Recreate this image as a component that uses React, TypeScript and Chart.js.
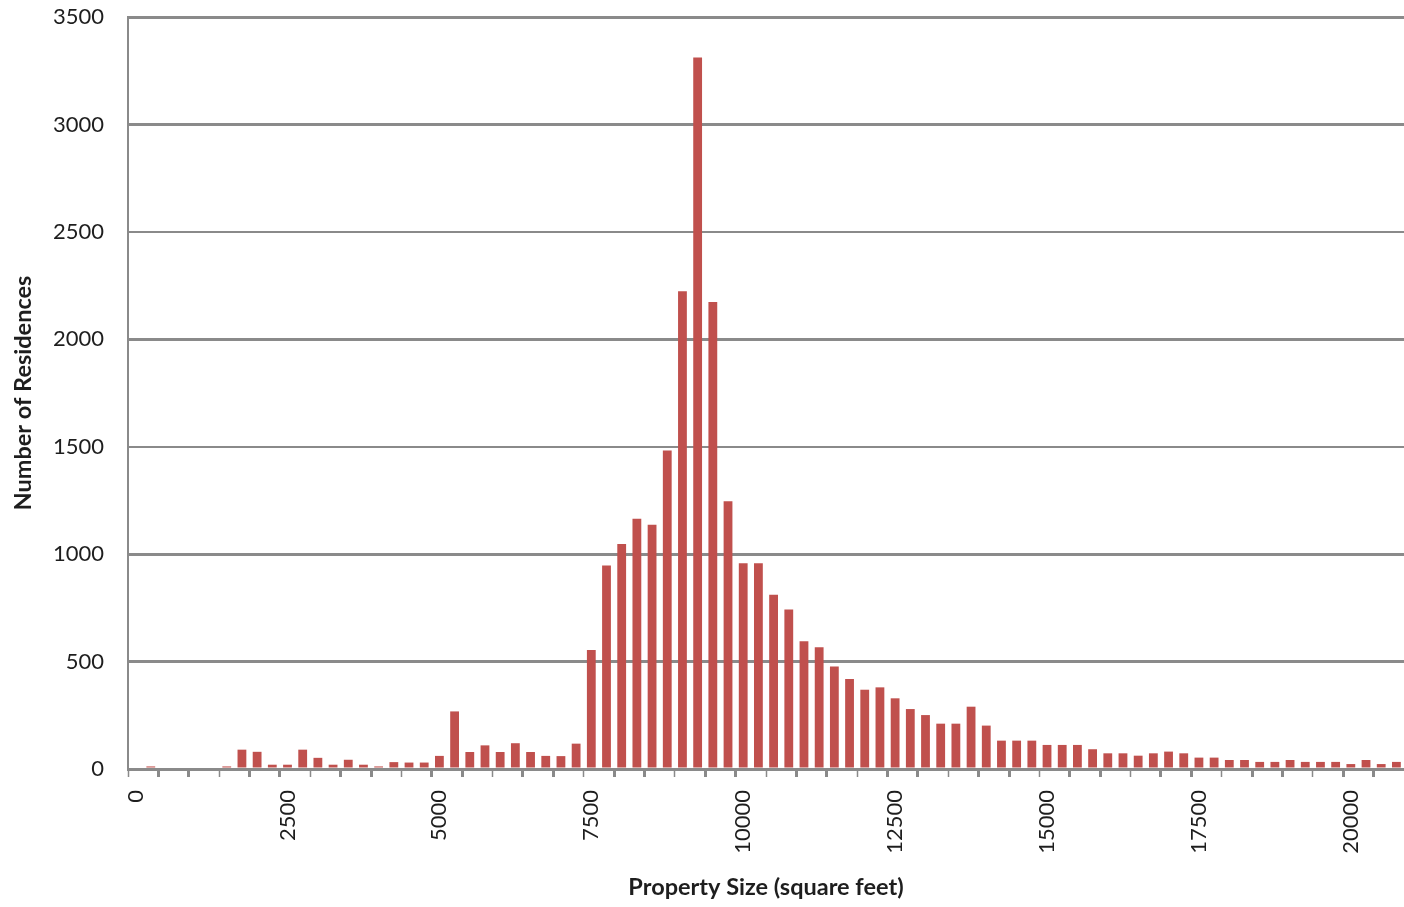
import React, { useEffect, useRef } from "react";
import { Chart, registerables } from "chart.js";

Chart.register(...registerables);

const categories: number[] = [
  0, 250, 500, 750, 1000, 1250, 1500, 1750, 2000, 2250,
  2500, 2750, 3000, 3250, 3500, 3750, 4000, 4250, 4500, 4750,
  5000, 5250, 5500, 5750, 6000, 6250, 6500, 6750, 7000, 7250,
  7500, 7750, 8000, 8250, 8500, 8750, 9000, 9250, 9500, 9750,
  10000, 10250, 10500, 10750, 11000, 11250, 11500, 11750, 12000, 12250,
  12500, 12750, 13000, 13250, 13500, 13750, 14000, 14250, 14500, 14750,
  15000, 15250, 15500, 15750, 16000, 16250, 16500, 16750, 17000, 17250,
  17500, 17750, 18000, 18250, 18500, 18750, 19000, 19250, 19500, 19750,
  20000, 20250, 20500, 20750,
];

const residences: number[] = [
  0, 12, 0, 0, 0, 0, 12, 90, 80, 20,
  20, 90, 52, 20, 43, 20, 12, 32, 30, 30,
  61, 268, 79, 110, 79, 120, 79, 61, 60, 118,
  554, 947, 1047, 1165, 1137, 1482, 2224, 3311, 2174, 1246,
  958, 958, 811, 742, 595, 567, 477, 419, 369, 380,
  329, 279, 251, 211, 211, 290, 202, 132, 132, 132,
  112, 112, 112, 92, 73, 73, 62, 73, 81, 73,
  53, 53, 42, 42, 33, 33, 42, 33, 33, 33,
  23, 42, 23, 33,
];

const yTicks: number[] = [0, 500, 1000, 1500, 2000, 2500, 3000, 3500];

const BAR_COLOR = "#C0504D";
const GRID_COLOR = "#8a8a8a";
const TEXT_COLOR = "#1e1e1e";

export default function App() {
  const ref = useRef<HTMLCanvasElement | null>(null);

  useEffect(() => {
    if (!ref.current) return;
    const chart = new Chart(ref.current, {
      type: "bar",
      data: {
        labels: categories.map(String),
        datasets: [
          {
            data: residences,
            backgroundColor: BAR_COLOR,
            borderWidth: 0,
            categoryPercentage: 1,
            barPercentage: 0.58,
          },
        ],
      },
      options: {
        responsive: false,
        animation: false,
        layout: { padding: { top: 17, right: 0, bottom: 0, left: 0 } },
        plugins: { legend: { display: false }, tooltip: { enabled: false } },
        scales: {
          x: {
            type: "category",
            offset: true,
            grid: {
              offset: true,
              drawOnChartArea: false,
              drawTicks: true,
              tickLength: 8,
              tickColor: (ctx: any) => (ctx.index % 2 === 0 ? GRID_COLOR : "rgba(0,0,0,0)"),
              tickWidth: (ctx: any) => ((ctx.index / 2) % 3 === 0 ? 1.5 : 3),
            },
            border: { display: true, color: GRID_COLOR, width: 2 },
            ticks: {
              autoSkip: false,
              maxRotation: 90,
              minRotation: 90,
              padding: 13,
              color: TEXT_COLOR,
              font: { family: "Lato", size: 22 },
              callback: (_v: any, i: number) => (i % 10 === 0 ? String(categories[i]) : ""),
            },
            title: {
              display: true,
              text: "Property Size (square feet)",
              color: TEXT_COLOR,
              font: { family: "Lato", size: 23.5, weight: "bold" },
              padding: { top: 0, bottom: 5 },
            },
            afterFit: (scale: any) => {
              scale.height = 907 - 769;
              scale.paddingLeft = 0;
              scale.paddingRight = 0;
            },
          },
          y: {
            min: 0,
            max: 3500,
            afterBuildTicks: (scale: any) => {
              scale.ticks = yTicks.map((v) => ({ value: v }));
            },
            grid: {
              drawTicks: false,
              color: GRID_COLOR,
              lineWidth: (ctx: any) => {
                const v = ctx.tick ? ctx.tick.value : 0;
                return v === 2500 || v === 1500 ? 2 : 3;
              },
            },
            border: { display: true, color: GRID_COLOR, width: 2 },
            ticks: {
              padding: 24,
              color: TEXT_COLOR,
              font: { family: "Lato", size: 22 },
              callback: (v: any) => String(v),
            },
            title: {
              display: true,
              text: "Number of Residences",
              color: TEXT_COLOR,
              font: { family: "Lato", size: 23.5, weight: "bold" },
              padding: { top: 9, bottom: 0 },
            },
            afterFit: (scale: any) => {
              scale.width = 128;
              scale.paddingTop = 0;
              scale.paddingBottom = 0;
            },
          },
        },
      },
    });
    return () => chart.destroy();
  }, []);

  return (
    <div style={{ position: "fixed", left: 0, top: 0, width: 1404, height: 907, background: "#fff" }}>
      <canvas ref={ref} width={1404} height={907} style={{ display: "block" }} />
    </div>
  );
}
